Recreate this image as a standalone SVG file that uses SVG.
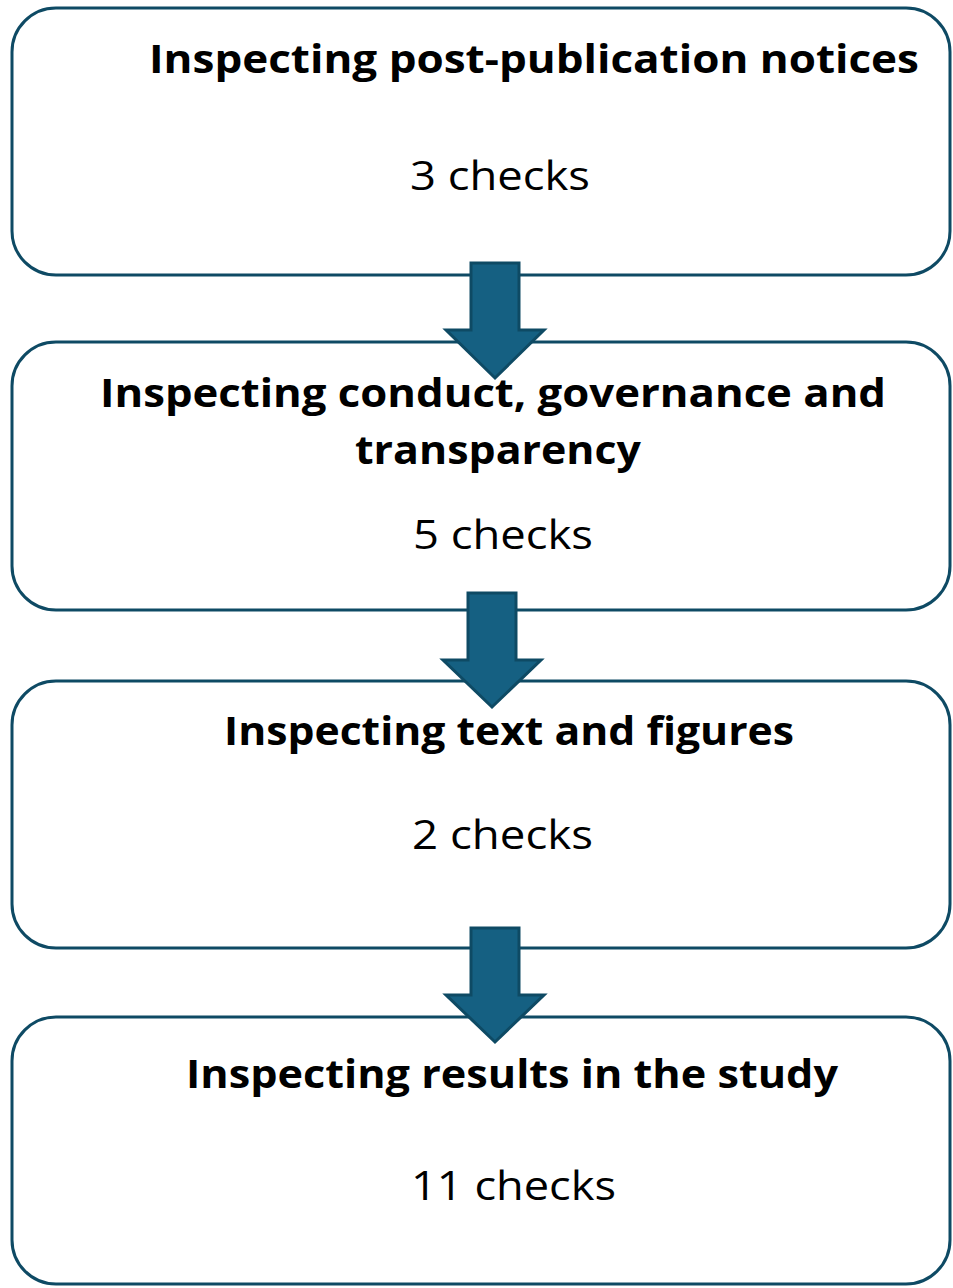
<svg xmlns="http://www.w3.org/2000/svg" width="953" height="1288" viewBox="0 0 953 1288">
<style>
.box{fill:#ffffff;stroke:#0E4A64;stroke-width:3}
.arrow{fill:#156082;stroke:#0E4A64;stroke-width:3;stroke-linejoin:miter}
.title{font-family:"Open Sans","Liberation Sans",sans-serif;font-weight:700;font-size:39px;fill:#000}
.count{font-family:"Open Sans","Liberation Sans",sans-serif;font-weight:400;font-size:40px;fill:#000}
</style>
<rect width="953" height="1288" fill="#ffffff"/>
<g id="node1">
<rect class="box" x="12" y="8" width="938" height="267" rx="44"/>
<text class="title" x="149" y="73" textLength="770" lengthAdjust="spacingAndGlyphs">Inspecting post-publication notices</text>
<text class="count" x="410" y="190" textLength="180" lengthAdjust="spacingAndGlyphs">3 checks</text>
</g>
<g id="node2">
<rect class="box" x="12" y="342" width="938" height="268" rx="44"/>
<text class="title" x="100" y="407" textLength="786" lengthAdjust="spacingAndGlyphs">Inspecting conduct, governance and</text>
<text class="title" x="355" y="464" textLength="286" lengthAdjust="spacingAndGlyphs">transparency</text>
<text class="count" x="413" y="549" textLength="180" lengthAdjust="spacingAndGlyphs">5 checks</text>
</g>
<g id="node3">
<rect class="box" x="12" y="681" width="938" height="267" rx="44"/>
<text class="title" x="224" y="745" textLength="570" lengthAdjust="spacingAndGlyphs">Inspecting text and figures</text>
<text class="count" x="412" y="849" textLength="181" lengthAdjust="spacingAndGlyphs">2 checks</text>
</g>
<g id="node4">
<rect class="box" x="12" y="1017" width="938" height="267" rx="44"/>
<text class="title" x="186" y="1088" textLength="652" lengthAdjust="spacingAndGlyphs">Inspecting results in the study</text>
<text class="count" x="411" y="1200" textLength="205" lengthAdjust="spacingAndGlyphs">11 checks</text>
</g>
<g id="connectors">
<polygon class="arrow" points="471,263 519,263 519,330 544,330 495,378 446,330 471,330"/>
<polygon class="arrow" points="468,593 516,593 516,660 541,660 492,707 443,660 468,660"/>
<polygon class="arrow" points="471,928 519,928 519,995 544,995 495,1042 446,995 471,995"/>
</g>
</svg>
